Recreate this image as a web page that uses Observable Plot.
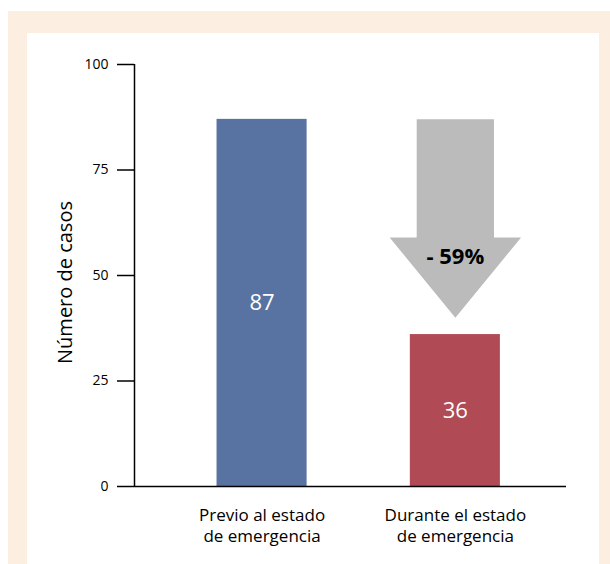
<!DOCTYPE html>
<html><head><meta charset="utf-8">
<script src="https://cdn.jsdelivr.net/npm/d3@7"></script>
<script src="https://cdn.jsdelivr.net/npm/@observablehq/plot@0.6"></script>
<style>
html,body{margin:0;padding:0;background:#fff;}
#wrap{position:relative;width:610px;height:564px;overflow:hidden;}
#beige{position:absolute;left:8px;top:11px;right:0;bottom:0;background:#fcefe1;}
#panel{position:absolute;left:27px;top:33px;width:572px;bottom:0;background:#fff;}
#chart{position:absolute;left:0;top:0;}
</style></head><body>
<div id="wrap"><div id="beige"></div><div id="panel"></div><div id="chart"></div></div>
<script>
const categories = ["Previo al estado\nde emergencia", "Durante el estado\nde emergencia"];
const values = [87, 36];
const barColors = ["#5873a2", "#b04a55"];
const yTicks = [0, 25, 50, 75, 100];
const yLabel = "Número de casos";
const changeLabel = "- 59%";
const arrowTop = 87, arrowHeadBase = 59, arrowTip = 40, changeLabelY = 54.3;

const data = categories.map((c, i) => ({i, c, v: values[i], color: barColors[i]}));
const xDomain = [-0.66, 1.575];
const halfBar = 0.233, shaftHalf = 0.2, headHalf = 0.34;
const ai = 1;
const arrow = [
  {x: ai - shaftHalf, y: arrowTop}, {x: ai + shaftHalf, y: arrowTop},
  {x: ai + shaftHalf, y: arrowHeadBase}, {x: ai + headHalf, y: arrowHeadBase},
  {x: ai, y: arrowTip}, {x: ai - headHalf, y: arrowHeadBase},
  {x: ai - shaftHalf, y: arrowHeadBase}, {x: ai - shaftHalf, y: arrowTop}
];

const plot = Plot.plot({
  width: 610, height: 564,
  marginLeft: 134, marginRight: 44, marginTop: 64, marginBottom: 78,
  style: {background: "transparent", fontFamily: "'Open Sans', sans-serif", color: "black"},
  x: {type: "linear", domain: xDomain, axis: null},
  y: {domain: [0, 100], axis: null},
  color: {type: "identity"},
  marks: [
    Plot.rectY(data, {x1: d => d.i - halfBar, x2: d => d.i + halfBar, y1: 0, y2: "v", fill: "color"}),
    Plot.line(arrow, {x: "x", y: "y", fill: "#bbbbbb", stroke: "none"}),
    Plot.text([changeLabel], {x: () => ai, y: () => changeLabelY, text: d => d, fontWeight: "bold", fontSize: 22, fill: "black"}),
    Plot.text(data, {x: "i", y: d => d.v / 2, text: d => String(d.v), fill: "white", fontSize: 22}),
    Plot.axisY({ticks: yTicks, tickSize: 17, tickPadding: 9, fontSize: 14, strokeWidth: 1.5, label: null}),
    Plot.ruleX([xDomain[0]], {strokeWidth: 1.5}),
    Plot.ruleY([0], {strokeWidth: 1.5}),
    Plot.text(data, {x: "i", y: 0, text: "c", dy: 20, lineAnchor: "top", fontSize: 17, lineHeight: 1.22, fill: "black"}),
    Plot.text([yLabel], {frameAnchor: "left", textAnchor: "middle", text: d => d, rotate: -90, dx: -69, dy: 7, fontSize: 20, fill: "black"})
  ]
});
document.getElementById("chart").appendChild(plot);
</script>
</body></html>
